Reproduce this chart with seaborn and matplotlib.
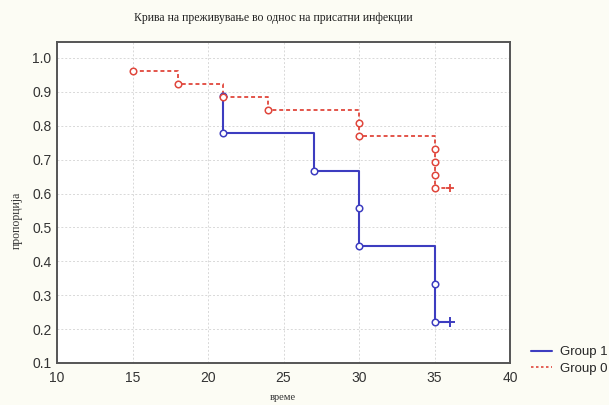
import numpy as np
import pandas as pd
import matplotlib
matplotlib.use("Agg")
import matplotlib.pyplot as plt
import seaborn as sns
from matplotlib.lines import Line2D

# Kaplan-Meier style cumulative proportion surviving
group1_time = [21, 21, 27, 30, 30, 35, 35]
group1_surv = [0.889, 0.778, 0.667, 0.556, 0.444, 0.333, 0.222]
group1_censor_time = [36]
group1_censor_surv = [0.222]

group0_time = [15, 18, 21, 24, 30, 30, 35, 35, 35, 35]
group0_surv = [0.962, 0.923, 0.885, 0.846, 0.808, 0.769, 0.731, 0.692, 0.654, 0.615]
group0_censor_time = [36]
group0_censor_surv = [0.615]

x_ticks = [10, 15, 20, 25, 30, 35, 40]
y_ticks = [0.1, 0.2, 0.3, 0.4, 0.5, 0.6, 0.7, 0.8, 0.9, 1.0]

title = "Крива на преживување во однос на присатни инфекции"
xlabel = "време"
ylabel = "пропорција"
labels = ["Group 1", "Group 0"]

blue = "#3d3dc0"
red = "#e0463c"

sns.set_style("white")
plt.rcParams["font.family"] = ["Liberation Sans", "DejaVu Sans"]

fig = plt.figure(figsize=(6.09, 4.05), dpi=100, facecolor="#fcfcf4")
ax = fig.add_axes([57 / 609, 1 - 363 / 405, (510 - 57) / 609, (363 - 42) / 405])
ax.set_facecolor("white")


def path(times, survs, c_times, c_survs):
    return pd.DataFrame({"t": list(times) + list(c_times),
                         "s": list(survs) + list(c_survs)})


d1 = path(group1_time, group1_surv, group1_censor_time, group1_censor_surv)
d0 = path(group0_time, group0_surv, group0_censor_time, group0_censor_surv)

sns.lineplot(data=d1, x="t", y="s", sort=False, estimator=None, ax=ax,
             drawstyle="steps-post", color=blue, lw=1.5)
sns.lineplot(data=d0, x="t", y="s", sort=False, estimator=None, ax=ax,
             drawstyle="steps-post", color=red, lw=1.3, linestyle=(0, (2.2, 1.6)))

sns.scatterplot(x=group1_time, y=group1_surv, ax=ax, marker="o", s=22,
                facecolor="white", edgecolor=blue, linewidth=1.1, zorder=5)
sns.scatterplot(x=group0_time, y=group0_surv, ax=ax, marker="o", s=22,
                facecolor="white", edgecolor=red, linewidth=1.1, zorder=6)
sns.scatterplot(x=group0_censor_time, y=group0_censor_surv, ax=ax, marker="+",
                s=38, color=red, linewidth=1.3, zorder=6)
sns.scatterplot(x=group1_censor_time, y=group1_censor_surv, ax=ax, marker="+",
                s=60, color=blue, linewidth=1.4, zorder=5)

ax.set_xlim(10, 40)
ax.set_ylim(0.1, 1.047)
ax.set_xticks(x_ticks)
ax.set_yticks(y_ticks)
ax.set_xticklabels([str(v) for v in x_ticks], fontsize=10, color="#333333")
ax.set_yticklabels([f"{v:.1f}" for v in y_ticks], fontsize=10, color="#333333")
ax.tick_params(axis="both", direction="in", length=2, width=0.8, color="#555555", pad=4)
ax.tick_params(axis="x", pad=6)
ax.grid(True, color="#d8d8d8", linestyle=(0, (2, 2)), linewidth=0.7)
ax.set_axisbelow(True)
for sp in ax.spines.values():
    sp.set_color("#555555")
    sp.set_linewidth(1.4)
ax.set_xlabel("")
ax.set_ylabel("")

fig.text(273 / 609, 1 - 18 / 405, title, ha="center", va="center", fontsize=8.5,
         family=["Liberation Serif", "DejaVu Serif"], color="#222222")
fig.text(283 / 609, 1 - 397 / 405, xlabel, ha="center", va="center", fontsize=7.5,
         family=["Liberation Serif", "DejaVu Serif"], color="#333333")
fig.text(17 / 609, 1 - 220 / 405, ylabel, ha="center", va="center", fontsize=8.5,
         rotation=90, family=["Liberation Serif", "DejaVu Serif"], color="#333333")

handles = [Line2D([], [], color=blue, lw=1.5),
           Line2D([], [], color=red, lw=1.2, linestyle=(0, (1.5, 1.5)))]
fig.legend(handles, labels, loc="center left", bbox_to_anchor=(526 / 609, 1 - 360.5 / 405),
           frameon=False, fontsize=9.5, handlelength=1.6, handletextpad=0.55,
           labelspacing=0.35, borderaxespad=0)

fig.savefig("out.png", dpi=100, facecolor=fig.get_facecolor())
